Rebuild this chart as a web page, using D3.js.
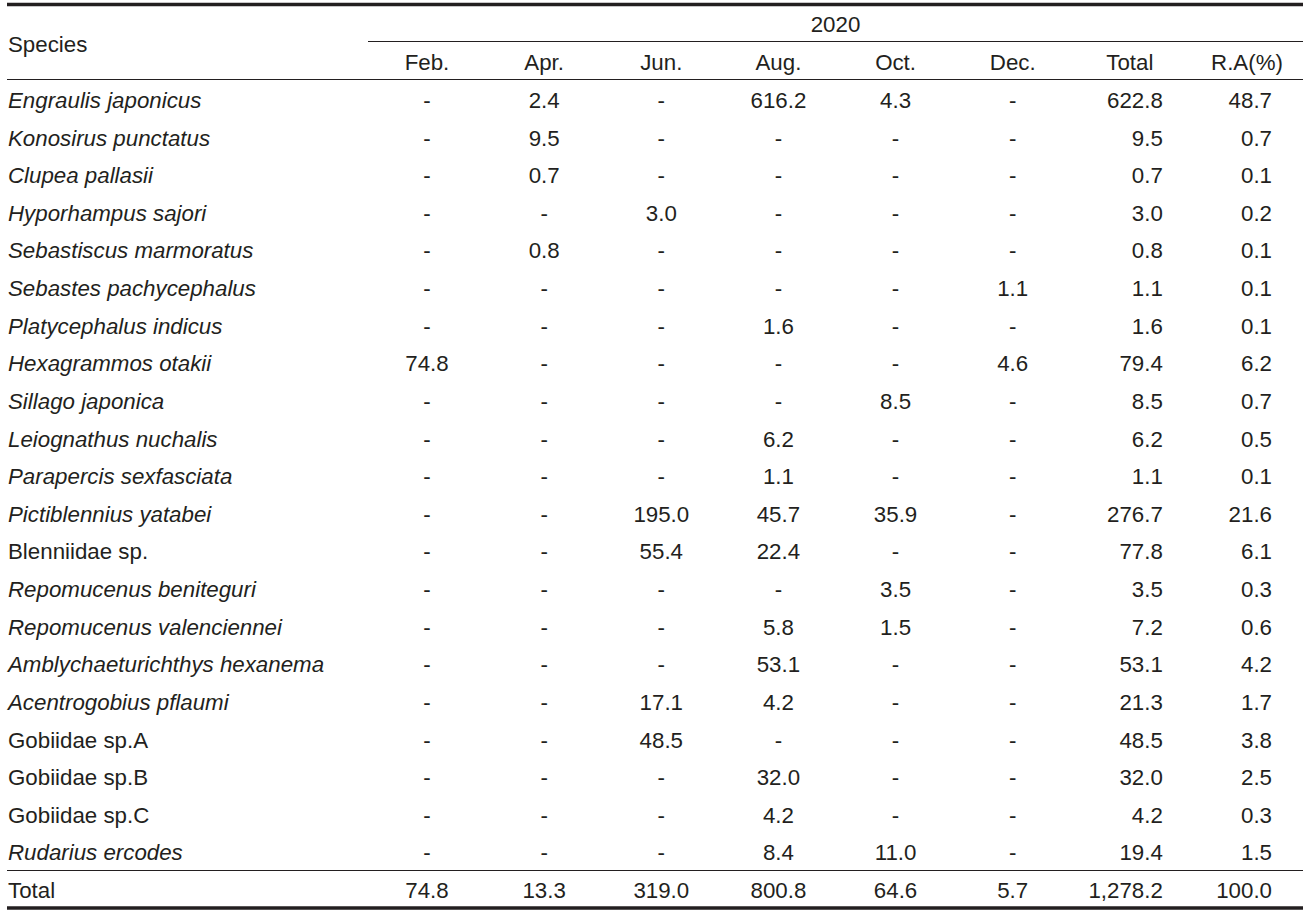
<!DOCTYPE html>
<meta charset="utf-8">
<style>
  body { margin: 0; background: #fff; }
  text { font-family: "Liberation Sans", Arial, Helvetica, sans-serif; font-size: 22.3px; fill: #231f20; }
  .it { font-style: italic; }
</style>
<body>
<script src="https://d3js.org/d3.v7.min.js"></script>
<script>
// ---- data ----
var species = ["Engraulis japonicus", "Konosirus punctatus", "Clupea pallasii", "Hyporhampus sajori",
  "Sebastiscus marmoratus", "Sebastes pachycephalus", "Platycephalus indicus", "Hexagrammos otakii",
  "Sillago japonica", "Leiognathus nuchalis", "Parapercis sexfasciata", "Pictiblennius yatabei",
  "Blenniidae sp.", "Repomucenus beniteguri", "Repomucenus valenciennei", "Amblychaeturichthys hexanema",
  "Acentrogobius pflaumi", "Gobiidae sp.A", "Gobiidae sp.B", "Gobiidae sp.C", "Rudarius ercodes", "Total"];
var plain = ["Blenniidae sp.", "Gobiidae sp.A", "Gobiidae sp.B", "Gobiidae sp.C", "Total"];
var columns = ["Feb.", "Apr.", "Jun.", "Aug.", "Oct.", "Dec.", "Total", "R.A(%)"];
var yearLabel = "2020";

var feb = [null,null,null,null,null,null,null,74.8,null,null,null,null,null,null,null,null,null,null,null,null,null,74.8];
var apr = [2.4,9.5,0.7,null,0.8,null,null,null,null,null,null,null,null,null,null,null,null,null,null,null,null,13.3];
var jun = [null,null,null,3.0,null,null,null,null,null,null,null,195.0,55.4,null,null,null,17.1,48.5,null,null,null,319.0];
var aug = [616.2,null,null,null,null,null,1.6,null,null,6.2,1.1,45.7,22.4,null,5.8,53.1,4.2,null,32.0,4.2,8.4,800.8];
var oct = [4.3,null,null,null,null,null,null,null,8.5,null,null,35.9,null,3.5,1.5,null,null,null,null,null,11.0,64.6];
var dec = [null,null,null,null,null,1.1,null,4.6,null,null,null,null,null,null,null,null,null,null,null,null,null,5.7];
var total = [622.8,9.5,0.7,3.0,0.8,1.1,1.6,79.4,8.5,6.2,1.1,276.7,77.8,3.5,7.2,53.1,21.3,48.5,32.0,4.2,19.4,1278.2];
var ra = [48.7,0.7,0.1,0.2,0.1,0.1,0.1,6.2,0.7,0.5,0.1,21.6,6.1,0.3,0.6,4.2,1.7,3.8,2.5,0.3,1.5,100.0];

var series = [feb, apr, jun, aug, oct, dec, total, ra];

var width = 1312, height = 917;
var fmt = d3.format(",.1f");

var svg = d3.select("body").append("svg")
  .attr("width", width)
  .attr("height", height);

var x = d3.scalePoint().domain(columns).range([427, 1247]);
var y = d3.scalePoint().domain(d3.range(species.length)).range([100, 890]);

// last two columns are right-aligned
function anchorX(c) {
  if (c === "Total") return x(c) + 33;
  if (c === "R.A(%)") return x(c) + 25;
  return x(c);
}
function anchor(c) {
  return (c === "Total" || c === "R.A(%)") ? "end" : "middle";
}

// rules
var left = 7, right = 1303;
svg.append("line").attr("x1", left).attr("x2", right).attr("y1", 4.5).attr("y2", 4.5)
  .attr("stroke", "#231f20").attr("stroke-width", 3.5);
svg.append("line").attr("x1", 368).attr("x2", right).attr("y1", 41.5).attr("y2", 41.5)
  .attr("stroke", "#231f20").attr("stroke-width", 1);
svg.append("line").attr("x1", left).attr("x2", right).attr("y1", 79.5).attr("y2", 79.5)
  .attr("stroke", "#231f20").attr("stroke-width", 1);
svg.append("line").attr("x1", left).attr("x2", right).attr("y1", 870.5).attr("y2", 870.5)
  .attr("stroke", "#231f20").attr("stroke-width", 1);
svg.append("line").attr("x1", left).attr("x2", right).attr("y1", 908).attr("y2", 908)
  .attr("stroke", "#231f20").attr("stroke-width", 3.5);

// header
svg.append("text").attr("x", 8).attr("y", 52).text("Species");
svg.append("text").attr("x", (368 + right) / 2).attr("y", 32)
  .attr("text-anchor", "middle").text(yearLabel);
svg.selectAll("text.head").data(columns).join("text")
  .attr("class", "head")
  .attr("x", function(d) { return x(d); })
  .attr("y", 70)
  .attr("text-anchor", "middle")
  .text(function(d) { return d; });

// species names
svg.selectAll("text.sp").data(species).join("text")
  .attr("class", function(d) { return plain.indexOf(d) >= 0 ? "sp" : "sp it"; })
  .attr("x", 8)
  .attr("y", function(d, i) { return y(i) + 8; })
  .text(function(d) { return d; });

// cells
columns.forEach(function(c, j) {
  var g = svg.append("g");
  g.selectAll("text").data(series[j]).join("text")
    .attr("x", function(d) { return d == null ? x(c) : anchorX(c); })
    .attr("y", function(d, i) { return y(i) + 8; })
    .attr("text-anchor", function(d) { return d == null ? "middle" : anchor(c); })
    .text(function(d) { return d == null ? "-" : fmt(d); });
});
</script>
</body>
